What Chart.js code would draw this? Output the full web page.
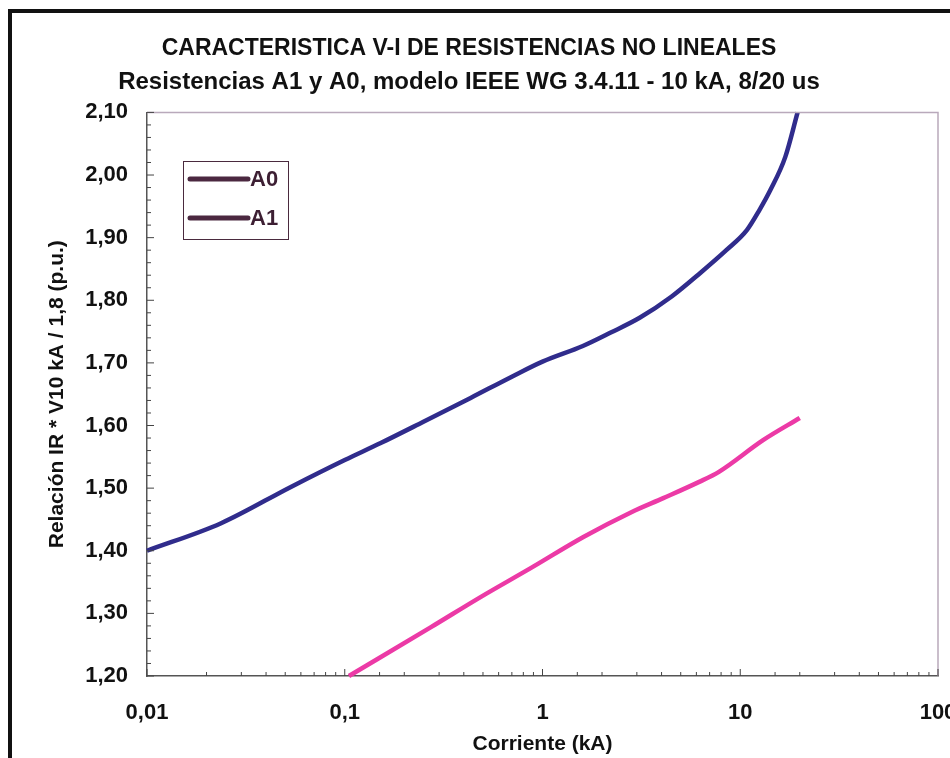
<!DOCTYPE html>
<html><head><meta charset="utf-8">
<script src="https://cdn.jsdelivr.net/npm/chart.js@4/dist/chart.umd.min.js"></script>
<style>
html,body{margin:0;padding:0;background:#fff;}
#wrap{position:relative;width:950px;height:758px;overflow:hidden;}
#frame{position:absolute;left:8px;top:9px;width:960px;height:780px;border-left:4px solid #111;border-top:4px solid #111;pointer-events:none;}
canvas{position:absolute;left:0;top:0;}
</style></head>
<body>
<div id="wrap"><canvas id="c" width="950" height="758"></canvas><div id="frame"></div></div>
<script>
// ---- data ----
const a0Current = [0.01, 0.0237, 0.0534, 0.1, 0.152, 0.25, 0.433, 0.7, 1.0, 1.6, 2.2, 3.1, 4.5, 6.3, 8.5, 10.8, 12.5, 14.2, 16.9, 19.5];
const a0Ratio   = [1.400, 1.444, 1.502, 1.545, 1.572, 1.606, 1.644, 1.678, 1.702, 1.727, 1.748, 1.772, 1.806, 1.844, 1.880, 1.912, 1.944, 1.976, 2.029, 2.100];
const a1Current = [0.105, 0.273, 0.486, 0.88, 1.61, 2.83, 4.08, 6.2, 7.8, 13.1, 20];
const a1Ratio   = [1.200, 1.278, 1.326, 1.373, 1.422, 1.462, 1.484, 1.510, 1.526, 1.577, 1.612];
const xTickLabels = {'0.01':'0,01','0.1':'0,1','1':'1','10':'10','100':'100'};
const seriesNames = ['A0','A1'];

const toPts = (xs, ys) => xs.map((x, i) => ({x: x, y: ys[i]}));

const insideTicks = {
  id: 'insideTicks',
  afterDraw(chart) {
    const {ctx, chartArea: a, scales} = chart;
    ctx.save();
    ctx.strokeStyle = '#b9a9bb';
    ctx.lineWidth = 1.5;
    ctx.beginPath();
    ctx.moveTo(a.left, a.top); ctx.lineTo(a.right, a.top); ctx.lineTo(a.right, a.bottom);
    ctx.stroke();
    ctx.strokeStyle = '#444';
    ctx.lineWidth = 1;
    const xs = scales.x;
    xs.ticks.forEach(t => {
      const px = xs.getPixelForValue(t.value);
      const lg = Math.log10(t.value);
      const major = Math.abs(lg - Math.round(lg)) < 1e-6;
      ctx.beginPath();
      ctx.moveTo(px, a.bottom); ctx.lineTo(px, a.bottom - (major ? 7 : 4));
      ctx.stroke();
    });
    const ys = scales.y;
    ys.ticks.forEach(t => {
      const py = ys.getPixelForValue(t.value);
      const major = Math.abs(t.value * 10 - Math.round(t.value * 10)) < 1e-6;
      ctx.beginPath();
      ctx.moveTo(a.left, py); ctx.lineTo(a.left + (major ? 7 : 4), py);
      ctx.stroke();
    });
    ctx.restore();
  }
};

const boxLegend = {
  id: 'boxLegend',
  afterDraw(chart) {
    const ctx = chart.ctx;
    const bx = 183, by = 161, bw = 105, bh = 78;
    ctx.save();
    ctx.fillStyle = '#fff';
    ctx.fillRect(bx, by, bw, bh);
    ctx.strokeStyle = '#4a2a3e';
    ctx.lineWidth = 1;
    ctx.strokeRect(bx + 0.5, by + 0.5, bw, bh);
    ctx.font = 'bold 22px "Liberation Sans", Arial, sans-serif';
    ctx.textBaseline = 'middle';
    chart.data.datasets.forEach((ds, i) => {
      const y = by + 18 + i * 39;
      ctx.strokeStyle = '#4b2840';
      ctx.lineWidth = 5;
      ctx.lineCap = 'round';
      ctx.beginPath(); ctx.moveTo(bx + 7, y); ctx.lineTo(bx + 65, y); ctx.stroke();
      ctx.fillStyle = '#3d1f33';
      ctx.fillText(ds.label, bx + 67, y + 1);
    });
    ctx.restore();
  }
};

new Chart(document.getElementById('c'), {
  type: 'scatter',
  data: {
    datasets: [
      {label: seriesNames[0], data: toPts(a0Current, a0Ratio), showLine: true, borderColor: '#302c8c', borderWidth: 4.5, pointRadius: 0, cubicInterpolationMode: 'monotone', clip: 6},
      {label: seriesNames[1], data: toPts(a1Current, a1Ratio), showLine: true, borderColor: '#ec3aa6', borderWidth: 4.5, pointRadius: 0, cubicInterpolationMode: 'monotone', clip: 6}
    ]
  },
  options: {
    responsive: false,
    animation: false,
    layout: {padding: {left: 0, right: 12, top: 0, bottom: 0}},
    plugins: {
      legend: {display: false},
      tooltip: {enabled: false},
      title: {display: true, text: 'CARACTERISTICA V-I DE RESISTENCIAS NO LINEALES', color: '#111',
        font: {family: '"Liberation Sans", Arial, sans-serif', size: 23, weight: 'bold'},
        padding: {top: 35, bottom: 5}},
      subtitle: {display: true, text: 'Resistencias A1 y A0, modelo IEEE WG 3.4.11 - 10 kA, 8/20 us', color: '#111',
        font: {family: '"Liberation Sans", Arial, sans-serif', size: 24, weight: 'bold'},
        padding: {top: 0, bottom: 16}}
    },
    scales: {
      x: {
        type: 'logarithmic', min: 0.01, max: 100,
        afterFit(s) { s.height = 82; s.paddingLeft = 0; s.paddingRight = 0; },
        grid: {drawOnChartArea: false, drawTicks: false},
        border: {display: true, color: '#555', width: 1.5},
        ticks: {autoSkip: false, maxRotation: 0, padding: 24, color: '#111',
          font: {family: '"Liberation Sans", Arial, sans-serif', size: 22, weight: 'bold'},
          callback: (v) => { const lg = Math.log10(v); return Math.abs(lg - Math.round(lg)) < 1e-6 ? (xTickLabels[String(Math.pow(10, Math.round(lg)))] ?? '') : ''; }},
        title: {display: true, text: 'Corriente (kA)', color: '#111',
          font: {family: '"Liberation Sans", Arial, sans-serif', size: 21, weight: 'bold'},
          padding: {top: 0, bottom: 1}}
      },
      y: {
        min: 1.2, max: 2.1,
        afterFit(s) { s.width = 147; },
        grid: {drawOnChartArea: false, drawTicks: false},
        border: {display: true, color: '#555', width: 1.5},
        ticks: {stepSize: 0.02, autoSkip: false, padding: 19, color: '#111',
          font: {family: '"Liberation Sans", Arial, sans-serif', size: 22, weight: 'bold'},
          callback: (v) => Math.abs(v * 10 - Math.round(v * 10)) < 1e-6 ? v.toFixed(2).replace('.', ',') : ''},
        title: {display: true, text: 'Relación IR * V10 kA / 1,8 (p.u.)', color: '#111',
          font: {family: '"Liberation Sans", Arial, sans-serif', size: 21, weight: 'bold'},
          padding: {top: 45, bottom: 0}}
      }
    }
  },
  plugins: [insideTicks, boxLegend]
});
</script>
</body></html>
